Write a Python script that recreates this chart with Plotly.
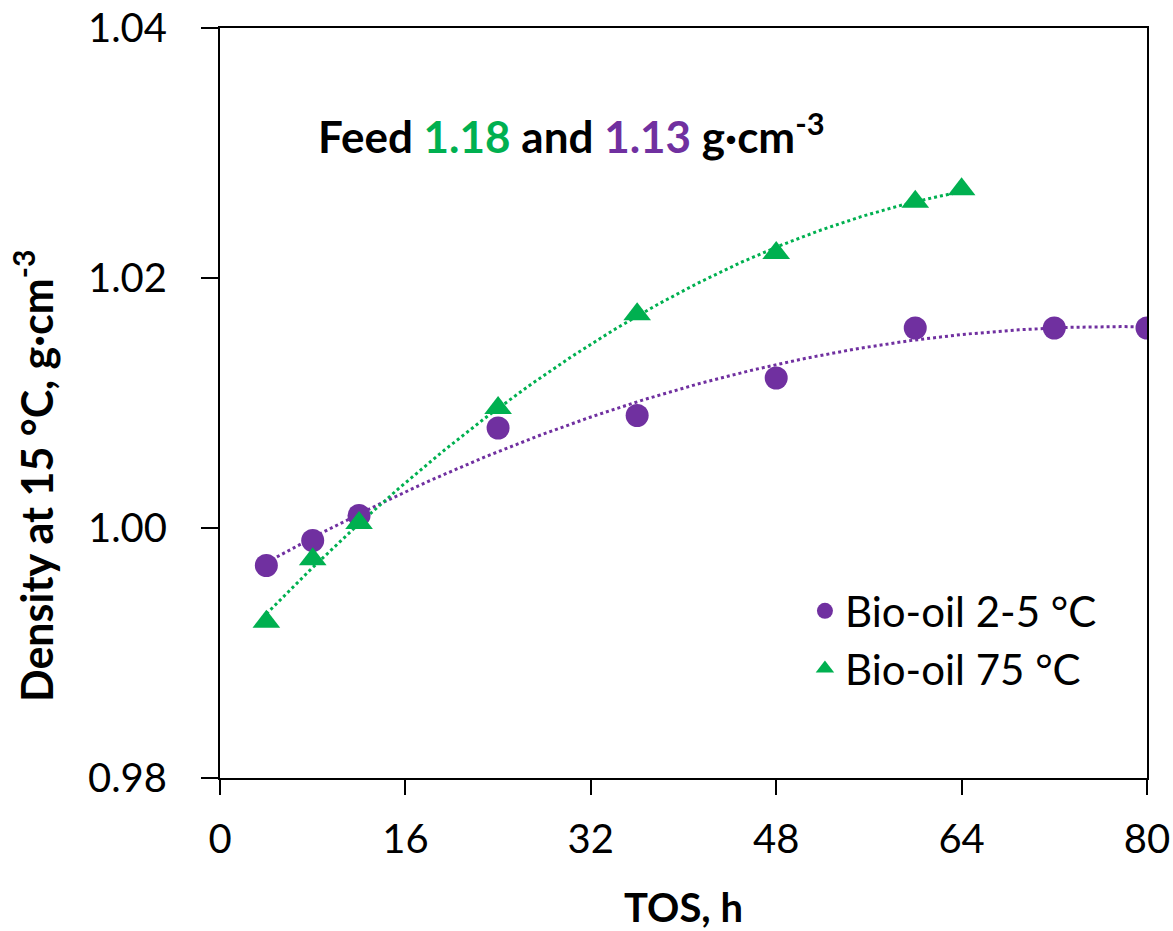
import numpy as np
import plotly.graph_objects as go

# Data
tos_cold = [4, 8, 12, 24, 36, 48, 60, 72, 80]
dens_cold = [0.997, 0.999, 1.001, 1.008, 1.009, 1.012, 1.016, 1.016, 1.016]
tos_hot = [4, 8, 12, 24, 36, 48, 60, 64]
dens_hot = [0.9925, 0.9975, 1.0004, 1.0096, 1.0171, 1.0220, 1.0261, 1.0271]

x_ticks = [0, 16, 32, 48, 64, 80]
y_ticks = [0.98, 1.00, 1.02, 1.04]

PURPLE = "#7030A0"
GREEN = "#00B050"
FONT = "Lato"

# Polynomial (order 2) trendlines
def trend(x, y):
    c = np.polyfit(x, y, 2)
    xs = np.linspace(min(x), max(x), 200)
    return xs, np.polyval(c, xs)

xc, yc = trend(tos_cold, dens_cold)
xh, yh = trend(tos_hot, dens_hot)

fig = go.Figure()
fig.add_trace(go.Scatter(x=xc, y=yc, mode="lines", line=dict(color=PURPLE, width=3, dash="dot"),
                         showlegend=False, hoverinfo="skip"))
fig.add_trace(go.Scatter(x=xh, y=yh, mode="lines", line=dict(color=GREEN, width=3, dash="dot"),
                         showlegend=False, hoverinfo="skip"))
fig.add_trace(go.Scatter(x=tos_cold, y=dens_cold, mode="markers", name="Bio-oil 2-5 °C",
                         marker=dict(symbol="circle", size=23, color=PURPLE)))
fig.add_trace(go.Scatter(x=tos_hot, y=dens_hot, mode="markers", name="Bio-oil 75 °C",
                         marker=dict(symbol="triangle-up", size=24, color=GREEN)))

fig.update_layout(
    width=1173, height=931,
    margin=dict(l=220, r=26, t=28, b=153),
    paper_bgcolor="white", plot_bgcolor="white",
    font=dict(family=FONT, size=40, color="black"),
    legend=dict(x=0.631, y=0.184, xanchor="left", yanchor="middle",
                bgcolor="rgba(0,0,0,0)", font=dict(family=FONT, size=42),
                itemsizing="trace", tracegroupgap=0),
    xaxis=dict(range=[0, 80], tickvals=x_ticks, ticktext=[str(v) for v in x_ticks],
               ticks="outside", ticklen=15, tickwidth=2, tickcolor="black",
               showline=True, linewidth=2, linecolor="black", mirror=True,
               showgrid=False, zeroline=False, automargin=False,
               ticklabelstandoff=10,
               tickfont=dict(family=FONT, size=40),
               title=dict(text="<b>TOS, h</b>", font=dict(family=FONT, size=40), standoff=34)),
    yaxis=dict(range=[0.98, 1.04], tickvals=y_ticks, ticktext=[f"{v:.2f}" for v in y_ticks],
               ticks="outside", ticklen=17, tickwidth=2, tickcolor="black",
               showline=True, linewidth=2, linecolor="black", mirror=True,
               showgrid=False, zeroline=False, automargin=False,
               ticklabelstandoff=26,
               tickfont=dict(family=FONT, size=40)),
    annotations=[
        dict(x=0.379, y=0.86, xref="paper", yref="paper", showarrow=False,
             xanchor="center", yanchor="middle",
             text=("<b>Feed <span style='color:" + GREEN + "'>1.18</span> and "
                   "<span style='color:" + PURPLE + "'>1.13</span> g·cm<sup>-3</sup></b>"),
             font=dict(family=FONT, size=44, color="black")),
        dict(x=-0.2006, y=0.4027, xref="paper", yref="paper", showarrow=False,
             xanchor="center", yanchor="middle", textangle=-90,
             text="<b>Density at 15 °C, g·cm<sup>-3</sup></b>",
             font=dict(family=FONT, size=43, color="black")),
    ],
)

fig.write_html("out.html")
